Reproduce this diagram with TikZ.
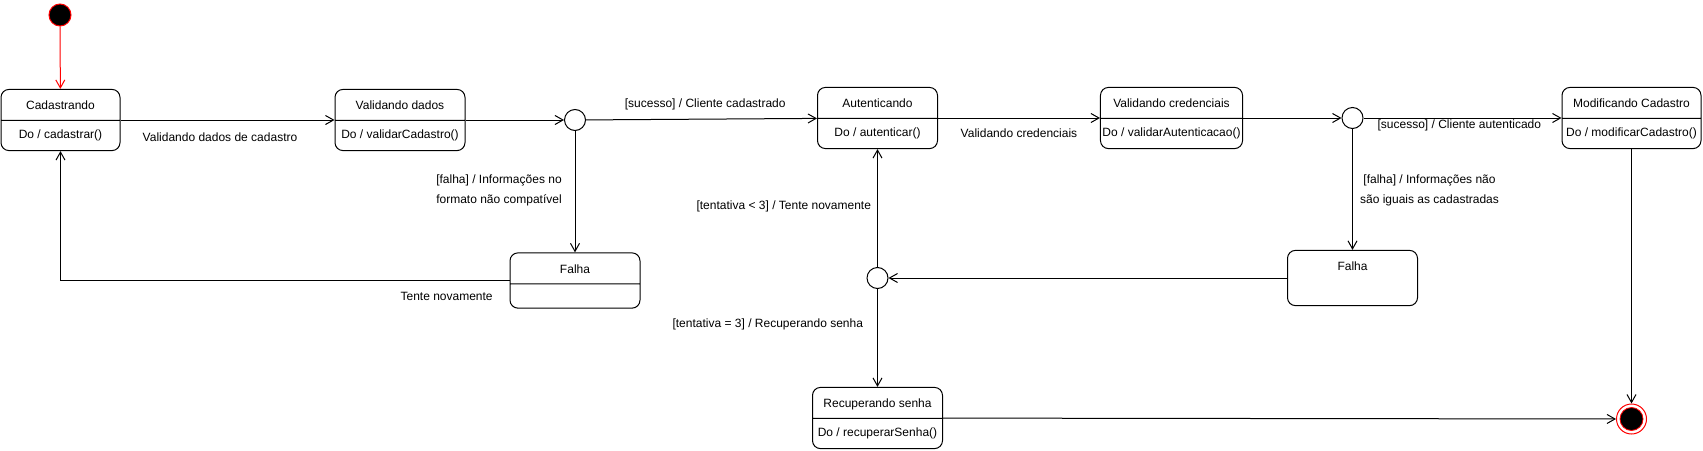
\documentclass[tikz,border=0pt]{standalone}
\usepackage{fontspec}
\setmainfont{Liberation Sans}
\usetikzlibrary{shapes.multipart,arrows.meta}

\tikzset{
    state/.style={draw, rounded corners=8pt, line width=1pt, rectangle split, rectangle split parts=2,
        text height=11pt, text depth=1pt, inner ysep=9pt, inner xsep=2pt},
    choice/.style={draw, circle, line width=1pt, minimum size=21pt, inner sep=0pt},
    trans/.style={draw, line width=1pt, -{Straight Barb[length=8pt,width=9pt]}},
    lbl/.style={font=\fontsize{12}{20}\selectfont, align=center, inner sep=1pt}
}

\begin{document}
\begin{tikzpicture}[x=1pt, y=-1pt, font=\fontsize{12}{14}\selectfont]
        \useasboundingbox (0,0) rectangle (1703,450);

        % Nodes
        \node[draw=red, fill=black, circle, line width=1pt, minimum size=22pt, inner sep=0pt] (ini) at (60,15) {};
        \node[state, minimum width=119pt] (cad) at (60.5,120) {Cadastrando \nodepart{two} Do / cadastrar()};
        \node[state, minimum width=130pt] (vdados) at (400,120) {Validando dados \nodepart{two} Do / validarCadastro()};
        \node[choice] (c1) at (575,120) {};
        \node[state, minimum width=130pt] (falha1) at (575,280.5) {Falha \nodepart{two} };
        \node[state, minimum width=120pt] (auth) at (877.5,118) {Autenticando \nodepart{two} Do / autenticar()};
        \node[state, minimum width=142pt] (vcred) at (1171.5,118) {Validando credenciais \nodepart{two} Do / validarAutenticacao()};
        \node[choice] (c2) at (1352.5,118) {};
        \node[state, minimum width=139pt] (mod) at (1631.5,118) {Modificando Cadastro \nodepart{two} Do / modificarCadastro()};
        \node[state, rectangle split draw splits=false, minimum width=130pt] (falha2) at (1352.5,278) {Falha \nodepart{two} };
        \node[choice] (c3) at (877.5,278) {};
        \node[state, minimum width=130pt] (rec) at (877.5,418) {Recuperando senha \nodepart{two} Do / recuperarSenha()};
        \node[draw=red, fill=white, circle, line width=1pt, minimum size=30pt, inner sep=0pt] (fim) at (1631.5,419) {};
        \node[draw=red, fill=black, circle, line width=0.8pt, minimum size=23pt, inner sep=0pt] (fimdot) at (fim) {};

        % Edges
        \draw[trans, red] (ini) -- (cad);
        \draw[trans] (cad) -- node[lbl, pos=.465, yshift=-17pt] {Validando dados de cadastro} (vdados);
        \draw[trans] (vdados) -- (c1);
        \draw[trans] (c1) -- node[lbl, pos=.516, yshift=15pt] {[sucesso] / Cliente cadastrado} (auth);
        \draw[trans] (c1) -- node[lbl, pos=.49, xshift=-76pt] {[falha] / Informações no\\formato não compatível} (falha1);
        \draw[trans] (falha1.west) -| node[lbl, pos=.07, yshift=-16pt] {Tente novamente} (cad.south);
        \draw[trans] (auth) -- node[lbl, pos=.5, yshift=-15pt] {Validando credenciais} (vcred);
        \draw[trans] (vcred) -- (c2);
        \draw[trans] (c2) -- node[lbl, pos=.484, yshift=-7pt] {[sucesso] / Cliente autenticado} (mod);
        \draw[trans] (c2) -- node[lbl, pos=.51, xshift=77pt] {[falha] / Informações não\\são iguais as cadastradas} (falha2);
        \draw[trans] (falha2) -- (c3);
        \draw[trans] (c3) -- node[lbl, pos=.515, anchor=east, xshift=-5pt] {[tentativa < 3] / Tente novamente} (auth);
        \draw[trans] (c3) -- node[lbl, pos=.36, anchor=east, xshift=-13pt] {[tentativa = 3] / Recuperando senha} (rec);
        \draw[trans] (rec) -- (fim);
        \draw[trans] (mod) -- (fim);
    \end{tikzpicture}
\end{document}
